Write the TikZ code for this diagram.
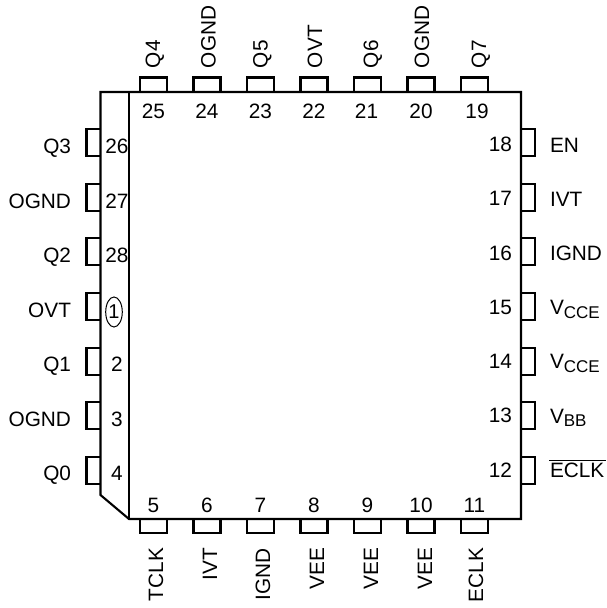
\documentclass[tikz,border=0pt]{standalone}
\usepackage{fontspec}
\setmainfont{Liberation Sans}
\newcommand{\subtxt}[1]{\raisebox{-3.9pt}{\fontsize{17}{18}\selectfont #1}}
\tikzset{
  x=1pt,y=-1pt,
  outline/.style={draw=black,line width=2.1pt,line join=miter,line cap=rect},
  pinbox/.style={draw=black,line width=2.1pt,line join=miter},
  txt/.style={inner sep=0pt,outer sep=0pt,font=\fontsize{20.8}{22}\selectfont,text=black},
  lblL/.style={txt,anchor=base east},
  lblR/.style={txt,anchor=base west},
  lblT/.style={txt,rotate=90,anchor=base west},
  lblB/.style={txt,rotate=90,anchor=base east},
  num/.style={txt,anchor=base},
  numR/.style={txt,anchor=base east},
}
\begin{document}
\begin{tikzpicture}
\useasboundingbox (0,0) rectangle (607,608);
% body
\draw[outline] (100.5,92) -- (521,92) -- (521,519) -- (129,519) -- (100.5,495) -- cycle;
\draw[outline] (129,92) -- (129,519);
% top and bottom pins
\foreach \c in {153.5,207,260.5,314,367.5,421,474.5}{
  \draw[pinbox] (\c-13.5,92) -- (\c-13.5,77.5) -- (\c+13.5,77.5) -- (\c+13.5,92);
  \draw[pinbox] (\c-13.5,519) -- (\c-13.5,533) -- (\c+13.5,533) -- (\c+13.5,519);
}
% left and right pins
\foreach \c in {142.5,197.2,251.8,306.5,361.2,415.8,470.5}{
  \draw[pinbox] (100.5,\c-13.5) -- (86.5,\c-13.5) -- (86.5,\c+13.5) -- (100.5,\c+13.5);
  \draw[pinbox] (521,\c-13.5) -- (535,\c-13.5) -- (535,\c+13.5) -- (521,\c+13.5);
}
% top numbers
\foreach \c/\t in {153.5/25,207/24,260.5/23,314/22,366.5/21,421/20,477/19}
  \node[num] (nt\t) at (\c,118.5) {\t};
% bottom numbers
\foreach \c/\t in {153.5/5,207/6,260.5/7,314/8,367.5/9,421/10,474.5/11}
  \node[num] (nb\t) at (\c,512) {\t};
% left numbers
\foreach \c/\t in {153.5/26,208/27,262.5/28,371.5/2,426/3,480.5/4}
  \node[num] (nl\t) at (117,\c) {\t};
\node[txt,font=\fontsize{20}{21}\selectfont] (nl1) at (114,312) {1};
\draw[line width=1pt] (114,312) ellipse [x radius=8.3,y radius=15];
% right numbers
\foreach \c/\t in {151.5/18,205.8/17,260/16,314.3/15,368.5/14,422.8/13,477.5/12}
  \node[numR] (nr\t) at (512,\c) {\t};
% top labels
\foreach \c/\t in {160/Q4,215.5/OGND,267.5/Q5,322/OVT,378/Q6,429/OGND,486/Q7}
  \node[lblT] at (\c,68) {\t};
% bottom labels
\foreach \c/\t in {163/TCLK,217/IVT,270/IGND,324/VEE,378/VEE,432/VEE,483/ECLK}
  \node[lblB] at (\c,548) {\t};
% left labels
\foreach \c/\t in {153.5/Q3,208/OGND,262/Q2,317/OVT,371.5/Q1,426/OGND,480.5/Q0}
  \node[lblL] at (71,\c) {\t};
% right labels
\node[lblR] (r18) at (550,152) {EN};
\node[lblR] (r17) at (550,206) {IVT};
\node[lblR] (r16) at (550,260) {IGND};
\node[lblR] (r15) at (550,314.5) {V\subtxt{CCE}};
\node[lblR] (r14) at (550,368.5) {V\subtxt{CCE}};
\node[lblR] (r13) at (550,423) {V\subtxt{BB}};
\node[lblR] (r12) at (550,477) {ECLK};
\draw[line width=1pt] (549,460.8) -- (606,460.8);
\end{tikzpicture}
\end{document}
